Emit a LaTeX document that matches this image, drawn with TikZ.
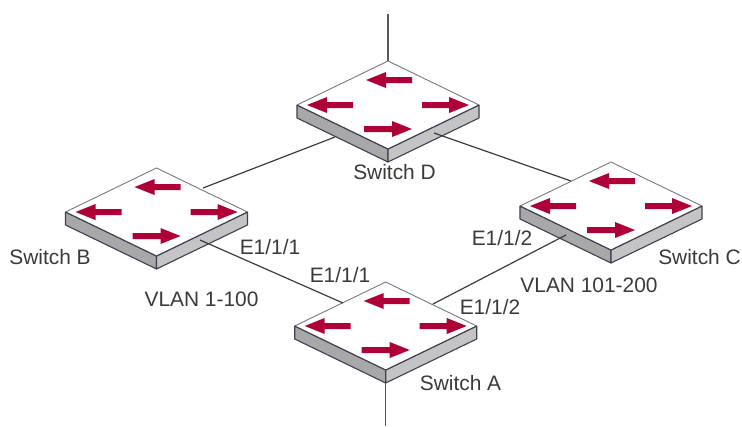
\documentclass[tikz,border=0pt]{standalone}
\usepackage{fontspec}
\setmainfont{Liberation Sans}
\definecolor{arrowred}{HTML}{B00038}
\definecolor{edgecol}{HTML}{3F3F52}
\definecolor{thinedge}{HTML}{77778A}
\definecolor{sideL}{HTML}{A8A8A8}
\definecolor{sideR}{HTML}{C4C4C4}
\definecolor{txt}{HTML}{3A3A3A}
\definecolor{wire}{HTML}{3C3C3C}
\tikzset{
  x=1pt,y=-1pt,
  link/.style={draw=wire,line width=1.2pt},
  stub/.style={draw=wire!85!white,line width=1.5pt},
  lbl/.style={inner sep=0pt,text=txt,font=\fontsize{20.9}{24}\selectfont,anchor=center},
  flow/.style={fill=arrowred,draw=none},
  hull/.style={draw=edgecol,line width=1.1pt,line join=round},
  pics/switchbox/.style={code={
    \path[hull,fill=sideL] (-91,0) -- (0,44) -- (0,57) -- (-91,13) -- cycle;
    \path[hull,fill=sideR] (91,0) -- (0,44) -- (0,57) -- (91,13) -- cycle;
    \path[fill=white] (0,-44) -- (91,0) -- (0,44) -- (-91,0) -- cycle;
    \path[draw=thinedge,line width=.9pt,line join=round] (-91,0) -- (0,-44) -- (91,0);
    \path[draw=edgecol,line width=1.1pt,line join=round] (-91,0) -- (0,44) -- (91,0);
    \path[flow] (-22,-25) -- (-2,-33) -- (-2,-28) -- (24,-28) -- (24,-22) -- (-2,-22) -- (-2,-17) -- cycle;
    \path[flow] (-81,0) -- (-61,-8) -- (-61,-3) -- (-35,-3) -- (-35,3) -- (-61,3) -- (-61,8) -- cycle;
    \path[flow] (81,0) -- (61,-8) -- (61,-3) -- (34,-3) -- (34,3) -- (61,3) -- (61,8) -- cycle;
    \path[flow] (24,24) -- (4,16) -- (4,21) -- (-24,21) -- (-24,27) -- (4,27) -- (4,32) -- cycle;
  }}
}
\begin{document}
\begin{tikzpicture}
\useasboundingbox (0,0) rectangle (742,426);
\coordinate (upEnd) at (388,14);
\coordinate (downEnd) at (385.7,426);
\coordinate (Dtop) at (388,61);
\coordinate (Abot) at (385.7,380);
\coordinate (Bd) at (203,188);
\coordinate (Db) at (335,137);
\coordinate (Dc) at (434,133);
\coordinate (Cd) at (571,181);
\coordinate (Ba) at (200,240);
\coordinate (Ab) at (343,303);
\coordinate (Ac) at (433,304);
\coordinate (Ca) at (566,235);
\draw[stub] (Dtop) -- (upEnd);
\draw[stub] (Abot) -- (downEnd);
\pic at (388,105) {switchbox};
\pic at (156.5,212) {switchbox};
\pic at (611,206) {switchbox};
\pic at (385.7,326) {switchbox};
\draw[link] (Bd) -- (Db);
\draw[link] (Dc) -- (Cd);
\draw[link] (Ba) -- (Ab);
\draw[link] (Ac) -- (Ca);
\node[lbl] (ld) at (394.5,172) {Switch D};
\node[lbl] (lb) at (50,257) {Switch B};
\node[lbl] (lc) at (699.5,257) {Switch C};
\node[lbl] (la) at (460.5,383) {Switch A};
\node[lbl] (p1) at (270,247) {E1/1/1};
\node[lbl] (p2) at (340,275) {E1/1/1};
\node[lbl] (p3) at (502,238) {E1/1/2};
\node[lbl] (p4) at (490,307) {E1/1/2};
\node[lbl] (v1) at (201.5,299) {VLAN 1-100};
\node[lbl] (v2) at (589,285) {VLAN 101-200};
\end{tikzpicture}
\end{document}
